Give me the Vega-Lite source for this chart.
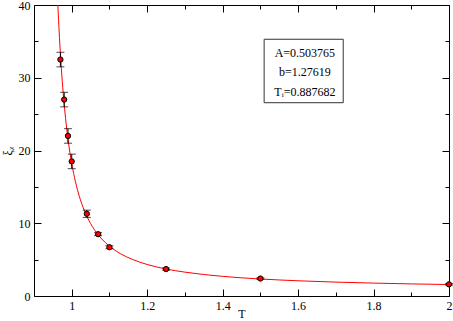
{
  "$schema": "https://vega.github.io/schema/vega-lite/v6.json",
  "width": 415,
  "height": 291,
  "autosize": {"type": "none"},
  "padding": {"left": 34, "top": 5, "right": 4, "bottom": 25},
  "background": "white",
  "config": {
    "view": {"stroke": null},
    "axis": {
      "domainColor": "black", "tickColor": "black", "domainWidth": 1, "tickWidth": 1,
      "labelFont": "Liberation Serif", "labelFontSize": 12, "labelColor": "black",
      "titleFont": "Liberation Serif", "titleFontSize": 12, "titleFontWeight": "normal", "titleColor": "black",
      "grid": false, "labelFlush": false, "labelOverlap": false
    }
  },
  "datasets": {
    "curve": [
      {"T": 0.9632, "xi": 40}, {"T": 0.965, "xi": 38.04}, {"T": 0.9675, "xi": 35.53}, {"T": 0.97, "xi": 33.29},
      {"T": 0.975, "xi": 29.47}, {"T": 0.98, "xi": 26.36}, {"T": 0.985, "xi": 23.78}, {"T": 0.99, "xi": 21.61},
      {"T": 0.995, "xi": 19.78}, {"T": 1.0, "xi": 18.21}, {"T": 1.01, "xi": 15.68}, {"T": 1.02, "xi": 13.73},
      {"T": 1.03, "xi": 12.2}, {"T": 1.04, "xi": 10.97}, {"T": 1.05, "xi": 9.96}, {"T": 1.06, "xi": 9.12},
      {"T": 1.08, "xi": 7.82}, {"T": 1.1, "xi": 6.85}, {"T": 1.13, "xi": 5.79}, {"T": 1.16, "xi": 5.05},
      {"T": 1.2, "xi": 4.33}, {"T": 1.25, "xi": 3.71}, {"T": 1.3, "xi": 3.28}, {"T": 1.4, "xi": 2.7},
      {"T": 1.5, "xi": 2.34}, {"T": 1.6, "xi": 2.09}, {"T": 1.7, "xi": 1.91}, {"T": 1.8, "xi": 1.774},
      {"T": 1.9, "xi": 1.664}, {"T": 2.0, "xi": 1.575}
    ],
    "pts": [
      {"T": 0.97, "xi": 32.5, "lo": 31.5, "hi": 33.5},
      {"T": 0.98, "xi": 27.0, "lo": 26.0, "hi": 28.0},
      {"T": 0.99, "xi": 22.0, "lo": 21.0, "hi": 23.0},
      {"T": 1.0, "xi": 18.5, "lo": 17.5, "hi": 19.5},
      {"T": 1.04, "xi": 11.3, "lo": 10.8, "hi": 11.8},
      {"T": 1.07, "xi": 8.5, "lo": 8.3, "hi": 8.7},
      {"T": 1.1, "xi": 6.7, "lo": 6.5, "hi": 6.9},
      {"T": 1.25, "xi": 3.7, "lo": 3.55, "hi": 3.85},
      {"T": 1.5, "xi": 2.4, "lo": 2.3, "hi": 2.5},
      {"T": 2.0, "xi": 1.6, "lo": 1.5, "hi": 1.7}
    ],
    "box": [{"x1": 1.51, "x2": 1.7196, "y1": 26.57, "y2": 35.29}],
    "labels": [
      {"T": 1.618, "xi": 33.44, "text": "A=0.503765"},
      {"T": 1.618, "xi": 30.74, "text": "b=1.27619"},
      {"T": 1.618, "xi": 28.07, "text": "Tᵢ=0.887682"}
    ]
  },
  "resolve": {"axis": {"x": "independent", "y": "independent"}},
  "layer": [
    {
      "data": {"name": "curve"},
      "mark": {"type": "line", "color": "red", "strokeWidth": 1, "clip": true, "interpolate": "monotone"},
      "encoding": {
        "x": {"field": "T", "type": "quantitative",
          "scale": {"domain": [0.9, 2], "nice": false, "zero": false},
          "axis": {"orient": "bottom", "title": "T", "values": [1, 1.2, 1.4, 1.6, 1.8, 2],
            "labelExpr": "format(datum.value, '~g')", "ticks": false,
            "labelPadding": 4, "titlePadding": -3}},
        "y": {"field": "xi", "type": "quantitative",
          "scale": {"domain": [0, 40], "nice": false},
          "axis": {"orient": "left", "title": "ξᵪ", "values": [0, 10, 20, 30, 40], "ticks": false,
            "labelPadding": 4, "titlePadding": 4}}
      }
    },
    {
      "data": {"name": "pts"},
      "mark": {"type": "rule", "color": "black", "strokeWidth": 1},
      "encoding": {
        "x": {"field": "T", "type": "quantitative",
          "axis": {"orient": "bottom", "title": null, "labels": false, "domain": false, "ticks": true, "values": [1, 1.2, 1.4, 1.6, 1.8, 2],
            "tickSize": 7, "offset": -7}},
        "y": {"field": "lo", "type": "quantitative",
          "axis": {"orient": "left", "title": null, "labels": false, "domain": false, "ticks": true, "values": [0, 10, 20, 30, 40],
            "tickSize": 7, "offset": -7}},
        "y2": {"field": "hi"}
      }
    },
    {
      "data": {"name": "pts"},
      "mark": {"type": "tick", "orient": "horizontal", "color": "black", "size": 8, "thickness": 1},
      "encoding": {
        "x": {"field": "T", "type": "quantitative",
          "axis": {"orient": "bottom", "title": null, "labels": false, "domain": false, "ticks": true, "values": [1.1, 1.3, 1.5, 1.7, 1.9],
            "tickSize": 4, "offset": -4}},
        "y": {"field": "lo", "type": "quantitative",
          "axis": {"orient": "left", "title": null, "labels": false, "domain": false, "ticks": true, "values": [5, 15, 25, 35],
            "tickSize": 4, "offset": -4}}
      }
    },
    {
      "data": {"name": "pts"},
      "mark": {"type": "tick", "orient": "horizontal", "color": "black", "size": 8, "thickness": 1},
      "encoding": {
        "x": {"field": "T", "type": "quantitative",
          "axis": {"orient": "top", "title": null, "labels": false, "domain": false, "ticks": true, "values": [1, 1.2, 1.4, 1.6, 1.8, 2],
            "tickSize": 7, "offset": -7}},
        "y": {"field": "hi", "type": "quantitative",
          "axis": {"orient": "right", "title": null, "labels": false, "domain": false, "ticks": true, "values": [0, 10, 20, 30, 40],
            "tickSize": 7, "offset": -7}}
      }
    },
    {
      "data": {"name": "pts"},
      "mark": {"type": "point", "shape": "circle", "filled": true, "fill": "red", "stroke": "black", "strokeWidth": 1, "size": 28, "opacity": 1},
      "encoding": {
        "x": {"field": "T", "type": "quantitative",
          "axis": {"orient": "top", "title": null, "labels": false, "domain": false, "ticks": true, "values": [1.1, 1.3, 1.5, 1.7, 1.9],
            "tickSize": 4, "offset": -4}},
        "y": {"field": "xi", "type": "quantitative",
          "axis": {"orient": "right", "title": null, "labels": false, "domain": false, "ticks": true, "values": [5, 15, 25, 35],
            "tickSize": 4, "offset": -4}}
      }
    },
    {
      "data": {"name": "box"},
      "mark": {"type": "rect", "fill": "white", "stroke": "#333333", "strokeWidth": 1},
      "encoding": {
        "x": {"field": "x1", "type": "quantitative",
          "axis": {"orient": "top", "title": null, "labels": false, "ticks": false}},
        "x2": {"field": "x2"},
        "y": {"field": "y1", "type": "quantitative",
          "axis": {"orient": "right", "title": null, "labels": false, "ticks": false}},
        "y2": {"field": "y2"}
      }
    },
    {
      "data": {"name": "labels"},
      "mark": {"type": "text", "font": "Liberation Serif", "fontSize": 12, "color": "black", "align": "center", "baseline": "middle"},
      "encoding": {
        "x": {"field": "T", "type": "quantitative", "axis": null},
        "y": {"field": "xi", "type": "quantitative", "axis": null},
        "text": {"field": "text"}
      }
    }
  ]
}
